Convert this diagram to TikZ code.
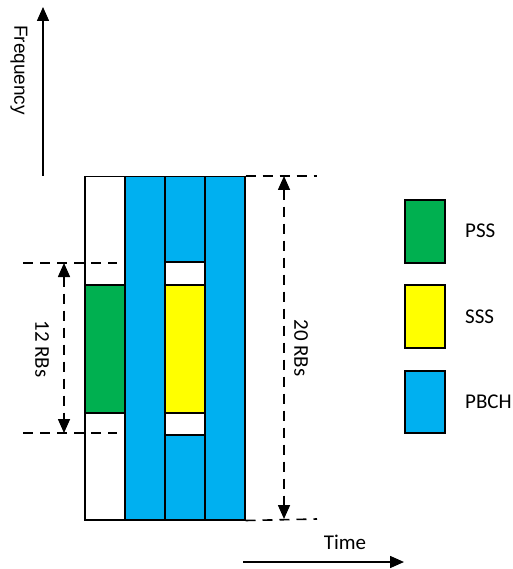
\documentclass[tikz,border=0pt]{standalone}
\usepackage{fontspec}
\setmainfont{Carlito}
\newfontfamily\axisfont{Liberation Sans}
\usetikzlibrary{arrows.meta}
\definecolor{pssgreen}{HTML}{00B050}
\definecolor{sssyellow}{HTML}{FFFF00}
\definecolor{pbchblue}{HTML}{00B0F0}
\tikzset{
  cell/.style={draw=black, line width=1.5pt, inner sep=0pt, anchor=north west,
    minimum width=40pt},
  dimline/.style={black, line width=1.6pt, dash pattern=on 10pt off 7pt},
  dimarrow/.style={black, line width=1.6pt, dash pattern=on 10pt off 7pt,
    {Triangle[length=14pt,width=12pt]}-{Triangle[length=14pt,width=12pt]}},
  axisarrow/.style={black, line width=1.5pt, -{Triangle[length=14pt,width=12pt]}},
  lbl/.style={font=\fontsize{21}{24}\selectfont, inner sep=0pt},
}
\begin{document}
\begin{tikzpicture}[x=1pt, y=-1pt]
\useasboundingbox (0,0) rectangle (512,569);

% time-frequency grid
\node[cell, fill=white, minimum height=343pt] (c1) at (84,176) {};
\node[cell, fill=pssgreen, minimum height=128pt] (pss) at (84,284) {};
\node[cell, fill=pbchblue, minimum height=343pt] (c2) at (124,176) {};
\node[cell, fill=pbchblue, minimum height=85pt] (c3top) at (164,176) {};
\node[cell, fill=white, minimum height=23pt] (gapA) at (164,261) {};
\node[cell, fill=sssyellow, minimum height=128pt] (sss) at (164,284) {};
\node[cell, fill=white, minimum height=22pt] (gapB) at (164,412) {};
\node[cell, fill=pbchblue, minimum height=85pt] (c3bot) at (164,434) {};
\node[cell, fill=pbchblue, minimum height=343pt] (c4) at (204,176) {};

% 20 RBs dimension
\coordinate (t20) at (317,176);
\coordinate (b20) at (317,519);
\draw[dimline] (c4.north east) -- (t20);
\draw[dimline] (c4.south east) -- (b20);
\coordinate (a20t) at (284,176);
\coordinate (a20b) at (284,519);
\draw[dimarrow] (a20t) -- (a20b);
\node[lbl, rotate=-90] (l20) at (301,348) {20 RBs};

% 12 RBs dimension
\coordinate (l12a) at (23,263);
\coordinate (r12a) at (117,263);
\coordinate (l12b) at (23,433);
\coordinate (r12b) at (117,433);
\draw[dimline] (l12a) -- (r12a);
\draw[dimline] (l12b) -- (r12b);
\coordinate (a12t) at (64,263);
\coordinate (a12b) at (64,433);
\draw[dimarrow] (a12t) -- (a12b);
\node[lbl, rotate=-90] (l12) at (42,349) {12 RBs};

% axes
\coordinate (f0) at (43,176);
\coordinate (f1) at (43,7);
\draw[axisarrow] (f0) -- (f1);
\node[inner sep=0pt, rotate=-90, font=\axisfont\fontsize{19}{22}\selectfont] (freq) at (19,70) {Frequency};
\coordinate (t0) at (243,562);
\coordinate (t1) at (404,562);
\draw[axisarrow] (t0) -- (t1);
\node[lbl] (time) at (345,542) {Time};

% legend
\node[cell, fill=pssgreen, minimum height=63pt] (kpss) at (404,199) {};
\node[cell, fill=sssyellow, minimum height=63pt] (ksss) at (404,284) {};
\node[cell, fill=pbchblue, minimum height=62pt] (kpbch) at (404,370) {};
\node[lbl, anchor=west] (tpss) at (465,231) {PSS};
\node[lbl, anchor=west] (tsss) at (465,317) {SSS};
\node[lbl, anchor=west] (tpbch) at (465,402) {PBCH};
\end{tikzpicture}
\end{document}
